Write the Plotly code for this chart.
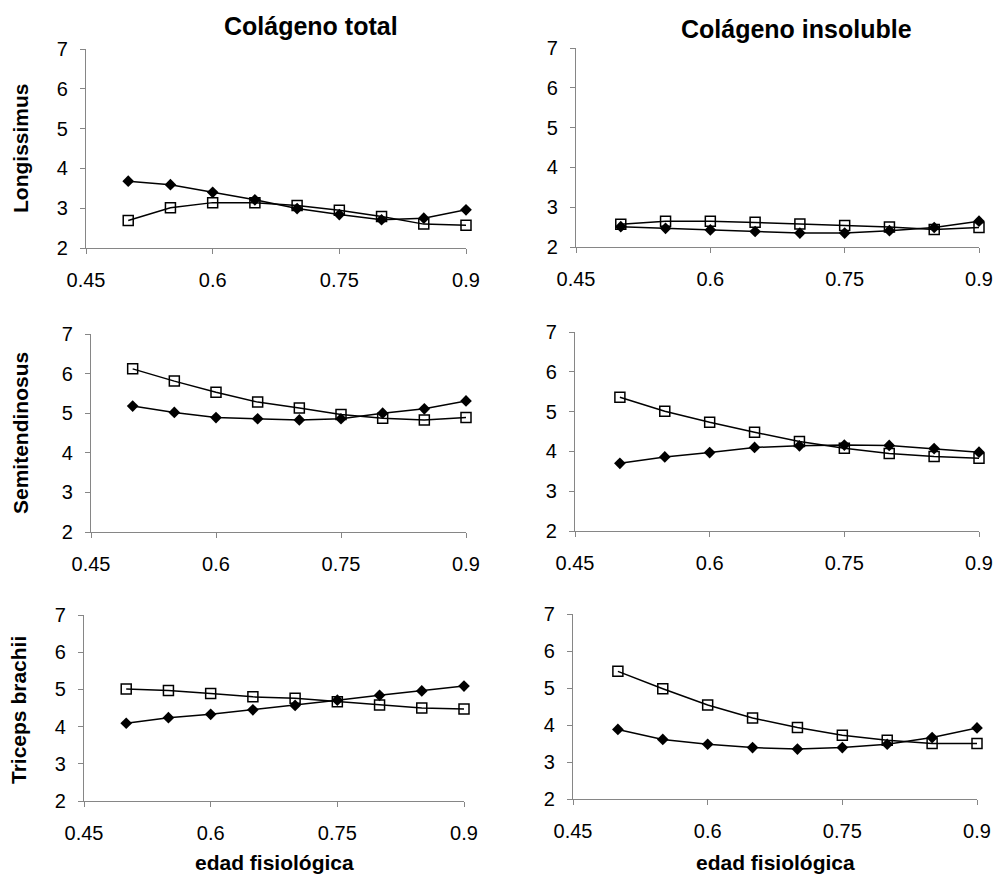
import plotly.graph_objects as go

# ---------------- data ----------------
edad = [0.50, 0.55, 0.60, 0.65, 0.70, 0.75, 0.80, 0.85, 0.90]
x_ticks = [0.45, 0.60, 0.75, 0.90]
x_ticktext = ["0.45", "0.6", "0.75", "0.9"]
y_ticks = [2, 3, 4, 5, 6, 7]

col_titles = ["Colágeno total", "Colágeno insoluble"]
row_titles = ["Longissimus", "Semitendinosus", "Triceps brachii"]
x_title = "edad fisiológica"

# filled diamonds / open squares, per panel
long_total_d = [3.68, 3.59, 3.40, 3.21, 2.99, 2.84, 2.71, 2.75, 2.96]
long_total_s = [2.69, 3.01, 3.14, 3.14, 3.07, 2.95, 2.79, 2.60, 2.57]
long_insol_d = [2.51, 2.47, 2.43, 2.39, 2.35, 2.35, 2.41, 2.49, 2.65]
long_insol_s = [2.57, 2.65, 2.65, 2.62, 2.58, 2.54, 2.50, 2.44, 2.49]
semi_total_d = [5.18, 5.02, 4.89, 4.86, 4.83, 4.86, 5.00, 5.11, 5.31]
semi_total_s = [6.12, 5.81, 5.53, 5.28, 5.13, 4.97, 4.87, 4.83, 4.89]
semi_insol_d = [3.70, 3.86, 3.97, 4.10, 4.14, 4.16, 4.15, 4.07, 3.98]
semi_insol_s = [5.36, 5.01, 4.73, 4.48, 4.25, 4.08, 3.95, 3.87, 3.83]
tric_total_d = [4.09, 4.24, 4.33, 4.45, 4.57, 4.71, 4.84, 4.96, 5.09]
tric_total_s = [5.01, 4.97, 4.89, 4.80, 4.76, 4.67, 4.58, 4.50, 4.47]
tric_insol_d = [3.88, 3.61, 3.48, 3.39, 3.35, 3.39, 3.48, 3.66, 3.92]
tric_insol_s = [5.45, 4.98, 4.54, 4.19, 3.93, 3.72, 3.59, 3.50, 3.50]

panels_d = [long_total_d, long_insol_d, semi_total_d, semi_insol_d, tric_total_d, tric_insol_d]
panels_s = [long_total_s, long_insol_s, semi_total_s, semi_insol_s, tric_total_s, tric_insol_s]

# ---------------- layout geometry (pixels) ----------------
W, H = 996, 874
boxes = [  # (left, right, top, bottom) in px
    (86, 466, 49, 248),
    (576, 979, 48, 247),
    (91, 466, 334, 532),
    (575, 979, 332, 531),
    (84, 464, 615, 801),
    (573, 977, 614, 799),
]

FONT = "Liberation Sans, Arial, sans-serif"
AXC = "#868686"

fig = go.Figure()
layout = dict(
    template="none",
    width=W, height=H,
    margin=dict(l=0, r=0, t=0, b=0, autoexpand=False),
    paper_bgcolor="white", plot_bgcolor="white",
    showlegend=False,
    font=dict(family=FONT, color="black", size=20),
)

for i, (l, r, t, b) in enumerate(boxes):
    n = "" if i == 0 else str(i + 1)
    xa, ya = "x" + n, "y" + n
    fig.add_trace(go.Scatter(
        x=edad, y=panels_d[i], xaxis=xa, yaxis=ya, mode="lines+markers",
        line=dict(color="black", width=1.5),
        marker=dict(symbol="diamond", size=9, color="black"),
        cliponaxis=False,
    ))
    fig.add_trace(go.Scatter(
        x=edad, y=panels_s[i], xaxis=xa, yaxis=ya, mode="lines+markers",
        line=dict(color="black", width=1.5),
        marker=dict(symbol="square-open", size=10, color="black", line=dict(width=1.5)),
        cliponaxis=False,
    ))
    layout["xaxis" + n] = dict(
        domain=[l / W, r / W], anchor=ya, range=[0.45, 0.9], automargin=False,
        tickvals=x_ticks, ticktext=x_ticktext,
        showgrid=False, zeroline=False, showline=True, linecolor=AXC, linewidth=1.3,
        ticks="outside", ticklen=5, tickcolor=AXC, tickwidth=1.3,
        tickfont=dict(size=20, family=FONT, color="black"),
        ticklabelstandoff=9,
    )
    layout["yaxis" + n] = dict(
        domain=[1 - b / H, 1 - t / H], anchor=xa, range=[2, 7], automargin=False,
        tickvals=y_ticks,
        showgrid=False, zeroline=False, showline=True, linecolor=AXC, linewidth=1.3,
        ticks="outside", ticklen=5, tickcolor=AXC, tickwidth=1.3,
        tickfont=dict(size=20, family=FONT, color="black"),
        ticklabelstandoff=8,
    )

ann = []
def A(text, px, py, size, angle=0):
    ann.append(dict(text="<b>%s</b>" % text, x=px / W, y=1 - py / H, xref="paper", yref="paper",
                    xanchor="center", yanchor="middle", showarrow=False, textangle=angle,
                    font=dict(size=size, family=FONT, color="black")))

A(col_titles[0], 311, 26, 25)
A(col_titles[1], 796, 29, 25)
A(row_titles[0], 20, 148, 21, -90)
A(row_titles[1], 20, 433, 21, -90)
A(row_titles[2], 18, 710, 21, -90)
A(x_title, 274, 862, 21)
A(x_title, 775, 862, 21)
layout["annotations"] = ann

fig.update_layout(**layout)
fig.write_html("out.html", config={"displayModeBar": False},
               post_script="document.body.style.margin='0px';document.body.style.overflow='hidden';")
